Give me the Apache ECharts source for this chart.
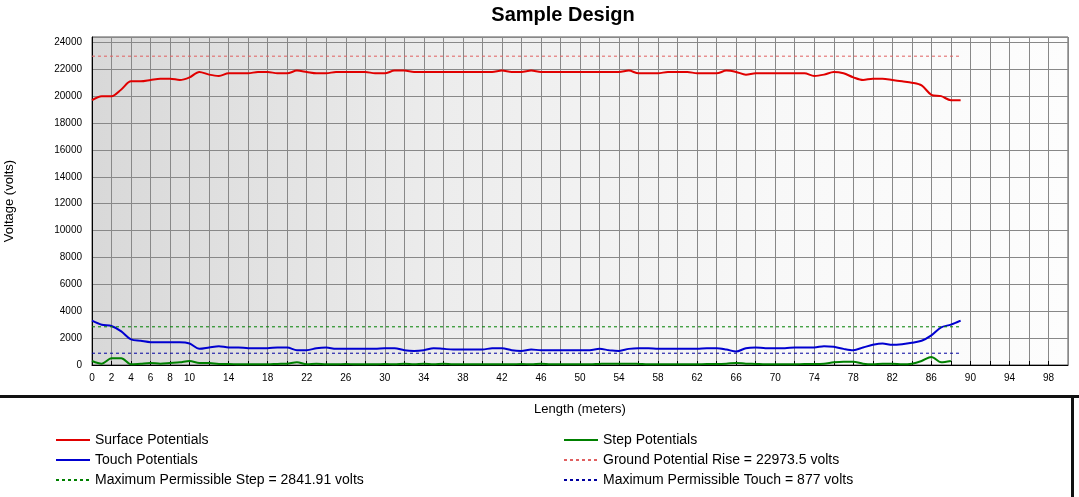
<!DOCTYPE html>
<html lang="en">
<head>
<meta charset="UTF-8">
<title>Sample Design</title>
<script src="https://cdn.jsdelivr.net/npm/echarts@6/dist/echarts.min.js"></script>
<style>
  body, html { background: #fff; width: 100%; height: 100%; margin: 0; }
  #chart { width: 1079px; height: 497px; }
</style>
</head>
<body>
<div id="chart"></div>
<script>
// values, one point per meter
var surface = [19700, 20000, 20000, 20500, 21100, 21100, 21200, 21300, 21300, 21200,
  21400, 21800, 21600, 21500, 21700, 21700, 21700, 21800, 21800, 21700,
  21700, 21900, 21800, 21700, 21700, 21800, 21800, 21800, 21800, 21700,
  21700, 21900, 21900, 21800, 21800, 21800, 21800, 21800, 21800, 21800,
  21800, 21800, 21900, 21800, 21800, 21900, 21800, 21800, 21800, 21800,
  21800, 21800, 21800, 21800, 21800, 21900, 21700, 21700, 21700, 21800,
  21800, 21800, 21700, 21700, 21700, 21900, 21800, 21600, 21700, 21700,
  21700, 21700, 21700, 21700, 21500, 21600, 21800, 21700, 21400, 21200,
  21300, 21300, 21200, 21100, 21000, 20800, 20100, 20000, 19700, 19700];
var touch = [3300, 3000, 2900, 2500, 1900, 1800, 1700, 1700, 1700, 1700,
  1600, 1200, 1300, 1400, 1300, 1300, 1250, 1250, 1250, 1300,
  1300, 1100, 1100, 1250, 1300, 1200, 1200, 1200, 1200, 1200,
  1250, 1250, 1100, 1050, 1100, 1250, 1200, 1150, 1150, 1150,
  1150, 1250, 1250, 1100, 1050, 1150, 1100, 1100, 1100, 1100,
  1100, 1100, 1200, 1100, 1050, 1200, 1250, 1250, 1200, 1200,
  1200, 1200, 1200, 1250, 1250, 1150, 1000, 1250, 1300, 1250,
  1250, 1250, 1300, 1300, 1300, 1400, 1350, 1200, 1100, 1300,
  1500, 1600, 1500, 1550, 1650, 1800, 2200, 2800, 3000, 3300];
var step = [300, 100, 500, 500, 50, 100, 150, 100, 150, 200,
  300, 150, 150, 80, 80, 50, 50, 50, 50, 80,
  100, 200, 50, 100, 50, 50, 80, 50, 50, 50,
  80, 50, 100, 50, 100, 50, 100, 50, 50, 50,
  50, 50, 50, 50, 80, 50, 100, 50, 50, 50,
  50, 50, 80, 100, 100, 100, 80, 50, 50, 50,
  50, 50, 50, 80, 80, 100, 150, 100, 80, 50,
  50, 50, 50, 80, 80, 100, 200, 250, 250, 100,
  50, 100, 100, 50, 100, 300, 600, 200, 300];
var gpr = 22973.5;
var maxStep = 2841.91;
var maxTouch = 877;
var xLabels = [0, 2, 4, 6, 8, 10, 14, 18, 22, 26, 30, 34, 38, 42, 46, 50, 54, 58, 62, 66, 70, 74, 78, 82, 86, 90, 94, 98];

function pairs(arr) {
  return arr.map(function (v, i) { return [i, v]; });
}
function flat(v) {
  return [[0, v], [89, v]];
}

var legendText = { fontSize: 14, color: '#000' };
var noDot = { color: 'transparent', borderWidth: 0 };

var option = {
  animation: false,
  textStyle: { fontFamily: 'Arial, Liberation Sans, sans-serif' },
  title: {
    text: 'Sample Design', left: 558, top: 0, textAlign: 'center',
    textStyle: { fontSize: 20, fontWeight: 'bold', color: '#000' }
  },
  grid: {
    left: 92, right: 11, top: 37, bottom: 132, outerBoundsMode: 'none',
    show: true, borderColor: '#555', borderWidth: 1,
    backgroundColor: {
      type: 'linear', x: 0, y: 0, x2: 1, y2: 0,
      colorStops: [{ offset: 0, color: '#d8d8d8' }, { offset: 0.35, color: '#ececec' }, { offset: 0.7, color: '#f8f8f8' }, { offset: 1, color: '#fdfdfd' }]
    }
  },
  xAxis: {
    type: 'value', min: 0, max: 100, interval: 2,
    name: 'Length (meters)', nameLocation: 'middle', nameGap: 38,
    nameTextStyle: { fontSize: 13, color: '#000' },
    axisLine: { lineStyle: { color: '#000' } },
    axisTick: { show: true, inside: true, length: 4, lineStyle: { color: '#000' } },
    axisLabel: {
      fontSize: 10, color: '#000', showMaxLabel: false,
      formatter: function (v) { return xLabels.indexOf(v) >= 0 ? String(v) : ''; }
    },
    splitLine: { show: true, lineStyle: { color: '#888', width: 1 } }
  },
  yAxis: {
    type: 'value', min: 0, max: 24400, interval: 2000,
    name: 'Voltage (volts)', nameLocation: 'middle', nameGap: 76,
    nameTextStyle: { fontSize: 13, color: '#000' },
    axisLine: { show: true, lineStyle: { color: '#000' } },
    axisTick: { show: false },
    axisLabel: {
      fontSize: 10, color: '#000', margin: 10,
      formatter: function (v) { return v > 24000 ? '' : String(v); }
    },
    splitLine: { show: true, lineStyle: { color: '#888', width: 1 } }
  },
  legend: [
    {
      orient: 'vertical', left: 50, top: 428, itemGap: 6, itemWidth: 34, itemHeight: 14,
      textStyle: legendText, itemStyle: noDot,
      data: ['Surface Potentials', 'Touch Potentials', 'Maximum Permissible Step = 2841.91 volts']
    },
    {
      orient: 'vertical', left: 558, top: 428, itemGap: 6, itemWidth: 34, itemHeight: 14,
      textStyle: legendText, itemStyle: noDot,
      data: ['Step Potentials', 'Ground Potential Rise = 22973.5 volts', 'Maximum Permissible Touch = 877 volts']
    }
  ],
  graphic: [
    { type: 'rect', shape: { x: 0, y: 395, width: 1079, height: 3 }, style: { fill: '#111' } },
    { type: 'rect', shape: { x: 1071, y: 398, width: 3, height: 99 }, style: { fill: '#111' } }
  ],
  series: [
    { name: 'Surface Potentials', type: 'line', data: pairs(surface), symbol: 'none', smooth: 0.3, lineStyle: { color: '#e00000', width: 2 }, itemStyle: { color: '#e00000' } },
    { name: 'Touch Potentials', type: 'line', data: pairs(touch), symbol: 'none', smooth: 0.3, lineStyle: { color: '#0000d0', width: 2 }, itemStyle: { color: '#0000d0' } },
    { name: 'Step Potentials', type: 'line', data: pairs(step), symbol: 'none', smooth: 0.3, lineStyle: { color: '#008000', width: 2 }, itemStyle: { color: '#008000' } },
    { name: 'Ground Potential Rise = 22973.5 volts', type: 'line', data: flat(gpr), symbol: 'none', lineStyle: { color: '#e06060', width: 1, type: [3, 3] }, itemStyle: { color: '#e06060' } },
    { name: 'Maximum Permissible Step = 2841.91 volts', type: 'line', data: flat(maxStep), symbol: 'none', lineStyle: { color: '#008000', width: 1, type: [3, 3] }, itemStyle: { color: '#008000' } },
    { name: 'Maximum Permissible Touch = 877 volts', type: 'line', data: flat(maxTouch), symbol: 'none', lineStyle: { color: '#0000a0', width: 1, type: [3, 3] }, itemStyle: { color: '#0000a0' } }
  ]
};

var myChart = echarts.init(document.getElementById('chart'));
myChart.setOption(option);
</script>
</body>
</html>
